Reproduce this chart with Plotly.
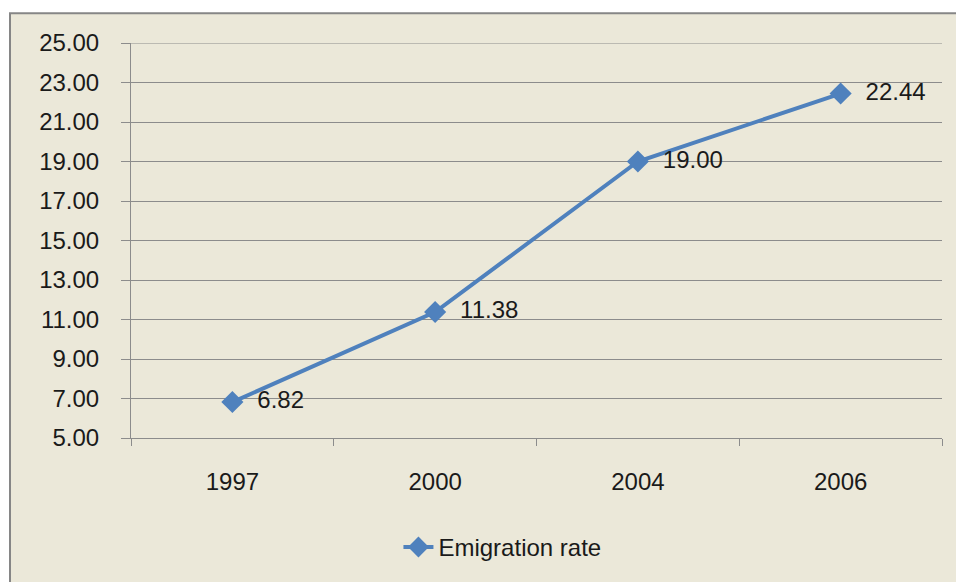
import plotly.graph_objects as go

years = ["1997", "2000", "2004", "2006"]
emigration_rate = [6.82, 11.38, 19.00, 22.44]
y_ticks = [5, 7, 9, 11, 13, 15, 17, 19, 21, 23, 25]

FONT = "Liberation Sans"
BLUE = "#4F81BD"
GRID = "#8C8C8C"
TXT = "#1a1a1a"

fig = go.Figure()
fig.add_trace(go.Scatter(
    x=years, y=emigration_rate, name="Emigration rate",
    mode="lines+markers+text",
    line=dict(color=BLUE, width=4),
    marker=dict(symbol="diamond", size=17, color=BLUE),
    text=["\u00a0\u00a0" + f"{v:.2f}" for v in emigration_rate],
    textposition="middle right",
    textfont=dict(family=FONT, size=24, color=TXT),
    cliponaxis=False,
))

fig.add_shape(type="rect", xref="paper", yref="paper",
              x0=-0.1492, x1=1.2, y0=-0.6, y1=1.0756,
              fillcolor="#EBE8D9", line=dict(color="#868686", width=2),
              layer="below")
# top gridline (plotly hides the gridline at the range edge)
fig.add_shape(type="line", xref="paper", yref="y",
              x0=0, x1=1, y0=y_ticks[-1], y1=y_ticks[-1],
              line=dict(color=GRID, width=1), layer="below")

fig.update_layout(
    width=956, height=582,
    margin=dict(l=131, r=14, t=43, b=142),
    paper_bgcolor="white", plot_bgcolor="rgba(0,0,0,0)",
    font=dict(family=FONT, size=24, color=TXT),
    showlegend=True,
    legend=dict(x=0.458, xanchor="center", y=-0.277, yanchor="middle",
                orientation="h", bgcolor="rgba(0,0,0,0)",
                font=dict(family=FONT, size=24, color=TXT)),
)
fig.update_xaxes(type="category", range=[-0.5, 3.5],
                 showline=True, linecolor=GRID, linewidth=1,
                 showgrid=False, ticks="outside", ticklen=7, tickcolor=GRID,
                 tickson="boundaries", ticklabelstandoff=22)
fig.update_yaxes(range=[5, 25], tickvals=y_ticks,
                 ticktext=[f"{v:.2f}" for v in y_ticks],
                 showline=True, linecolor=GRID, linewidth=1,
                 showgrid=True, gridcolor=GRID, gridwidth=1,
                 zeroline=False, ticks="outside", ticklen=9, tickcolor=GRID,
                 ticklabelstandoff=17)

fig.write_html("out.html", config={"displayModeBar": False},
               post_script="document.body.style.margin='0';")
